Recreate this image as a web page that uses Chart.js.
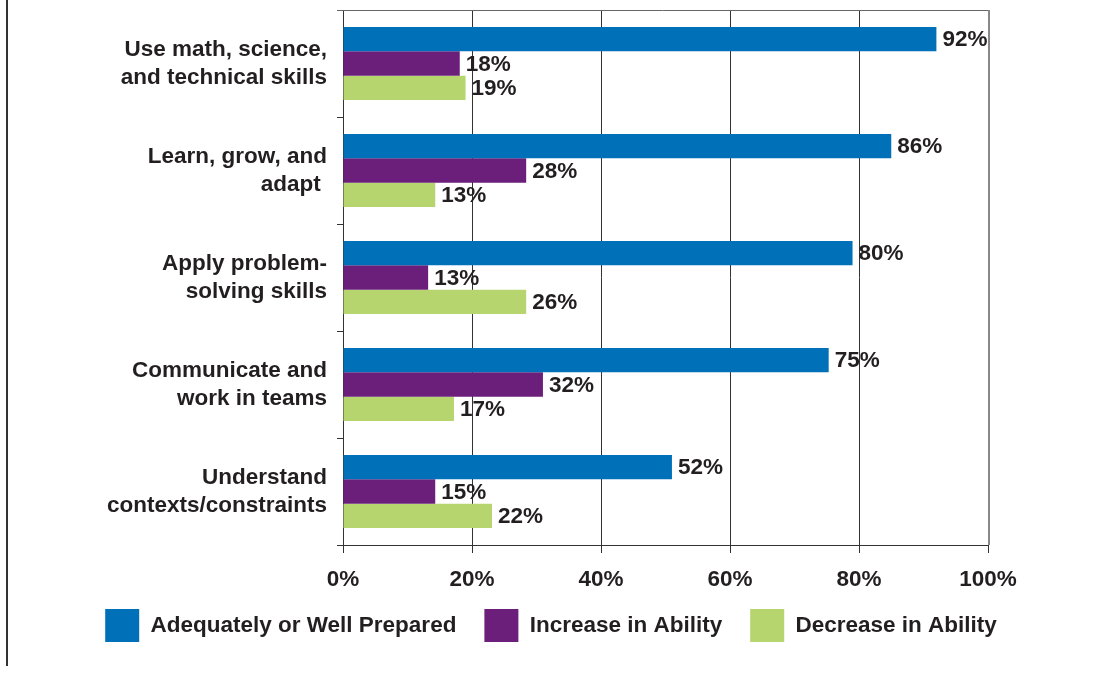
<!DOCTYPE html>
<html lang="en">
<head>
    <meta charset="UTF-8">
    <title>Preparedness of graduates</title>
    <script src="https://cdn.jsdelivr.net/npm/chart.js@4.4.1/dist/chart.umd.min.js"></script>
    <style>
        html, body { margin: 0; padding: 0; background: #fff; }
        #wrap { position: relative; width: 1095px; height: 673px; }
        #edge { position: absolute; left: 6px; top: 0; width: 2px; height: 666px; background: #333; }
        canvas { position: absolute; left: 0; top: 0; }
    </style>
</head>
<body>
    <div id="wrap">
        <div id="edge"></div>
        <canvas id="skillsChart" width="1095" height="673"></canvas>
    </div>

    <script>
        const categories = [
            ['Use math, science,', 'and technical skills'],
            ['Learn, grow, and', 'adapt '],
            ['Apply problem-', 'solving skills'],
            ['Communicate and', 'work in teams'],
            ['Understand', 'contexts/constraints']
        ];
        const seriesNames = ['Adequately or Well Prepared', 'Increase in Ability', 'Decrease in Ability'];
        // bar lengths as drawn in the original (they don't always match the printed numbers)
        const prepared = [92, 85, 79, 75.3, 51];
        const increase = [18.1, 28.4, 13.2, 31, 14.3];
        const decrease = [19, 14.3, 28.4, 17.2, 23.1];
        // numbers printed at the bar ends
        const preparedText = [92, 86, 80, 75, 52];
        const increaseText = [18, 28, 13, 32, 15];
        const decreaseText = [19, 13, 26, 17, 22];
        const xTicks = [0, 20, 40, 60, 80, 100];

        const colors = ['#0070b9', '#6b1f7b', '#b6d56e'];
        const textColor = '#231f20';
        const fontFamily = '"Liberation Sans", Arial, Helvetica, sans-serif';
        const fontSize = 22.5;

        // values written just past the end of each bar
        const barLabels = {
            id: 'barLabels',
            afterDatasetsDraw(chart) {
                const ctx = chart.ctx;
                ctx.save();
                ctx.font = 'bold ' + fontSize + 'px ' + fontFamily;
                ctx.fillStyle = textColor;
                ctx.textAlign = 'left';
                ctx.textBaseline = 'middle';
                chart.data.datasets.forEach((ds, i) => {
                    chart.getDatasetMeta(i).data.forEach((bar, j) => {
                        ctx.fillText(ds.printed[j] + '%', bar.x + 6, bar.y + 1);
                    });
                });
                ctx.restore();
            }
        };

        // frame lines along the top and right of the plot;
        // also let the x labels hang below their (short) axis box
        const frame = {
            id: 'frame',
            beforeDraw(chart) {
                chart.scales.x._computeLabelArea = () => undefined;
            },
            afterDraw(chart) {
                const a = chart.chartArea;
                const ctx = chart.ctx;
                ctx.save();
                ctx.strokeStyle = '#666';
                ctx.lineWidth = 1;
                ctx.beginPath();
                ctx.moveTo(a.left - 6, a.top + 0.5);
                ctx.lineTo(a.right, a.top + 0.5);
                ctx.stroke();
                ctx.strokeStyle = '#888';
                ctx.lineWidth = 2;
                ctx.beginPath();
                ctx.moveTo(a.right + 1, a.top);
                ctx.lineTo(a.right + 1, a.bottom);
                ctx.stroke();
                ctx.restore();
            }
        };

        const chart = new Chart(document.getElementById('skillsChart'), {
            type: 'bar',
            data: {
                labels: categories,
                datasets: [
                    { label: seriesNames[0], data: prepared, printed: preparedText, backgroundColor: colors[0] },
                    { label: seriesNames[1], data: increase, printed: increaseText, backgroundColor: colors[1] },
                    { label: seriesNames[2], data: decrease, printed: decreaseText, backgroundColor: colors[2] }
                ]
            },
            options: {
                indexAxis: 'y',
                responsive: false,
                animation: false,
                datasets: {
                    bar: { categoryPercentage: 0.68, barPercentage: 1.0 }
                },
                layout: {
                    padding: { top: 10, right: 0, left: 7, bottom: 21 }
                },
                scales: {
                    x: {
                        min: 0,
                        max: 100,
                        afterBuildTicks: (scale) => { scale.ticks = xTicks.map(v => ({ value: v })); },
                        afterFit: (scale) => { scale.height = 36; },
                        ticks: {
                            callback: (v) => v + '%',
                            color: textColor,
                            padding: 13,
                            font: { family: fontFamily, size: fontSize, weight: 'bold' }
                        },
                        grid: { color: '#333', lineWidth: 1, tickLength: 8 },
                        border: { color: '#333' }
                    },
                    y: {
                        afterFit: (scale) => {
                            scale.width = 343 - 7;
                            scale.paddingTop = 0;
                            scale.paddingBottom = 0;
                        },
                        ticks: {
                            color: textColor,
                            padding: 10,
                            font: { family: fontFamily, size: fontSize, weight: 'bold', lineHeight: 1.24 }
                        },
                        grid: { drawOnChartArea: false, color: '#333', tickLength: 6 },
                        border: { color: '#333' }
                    },
                    // empty right-hand axis that only reserves the margin right of the plot
                    spacer: {
                        type: 'linear',
                        position: 'right',
                        afterFit: (scale) => {
                            scale.width = 1095 - 988;
                            scale.paddingTop = 0;
                            scale.paddingBottom = 0;
                        },
                        ticks: { display: false },
                        grid: { display: false },
                        border: { display: false }
                    }
                },
                plugins: {
                    legend: {
                        position: 'bottom',
                        labels: {
                            boxWidth: 34,
                            boxHeight: 33,
                            padding: 28,
                            color: textColor,
                            font: { family: fontFamily, size: fontSize, weight: 'bold' }
                        }
                    },
                    tooltip: { enabled: false }
                }
            },
            plugins: [barLabels, frame]
        });
    </script>
</body>
</html>
